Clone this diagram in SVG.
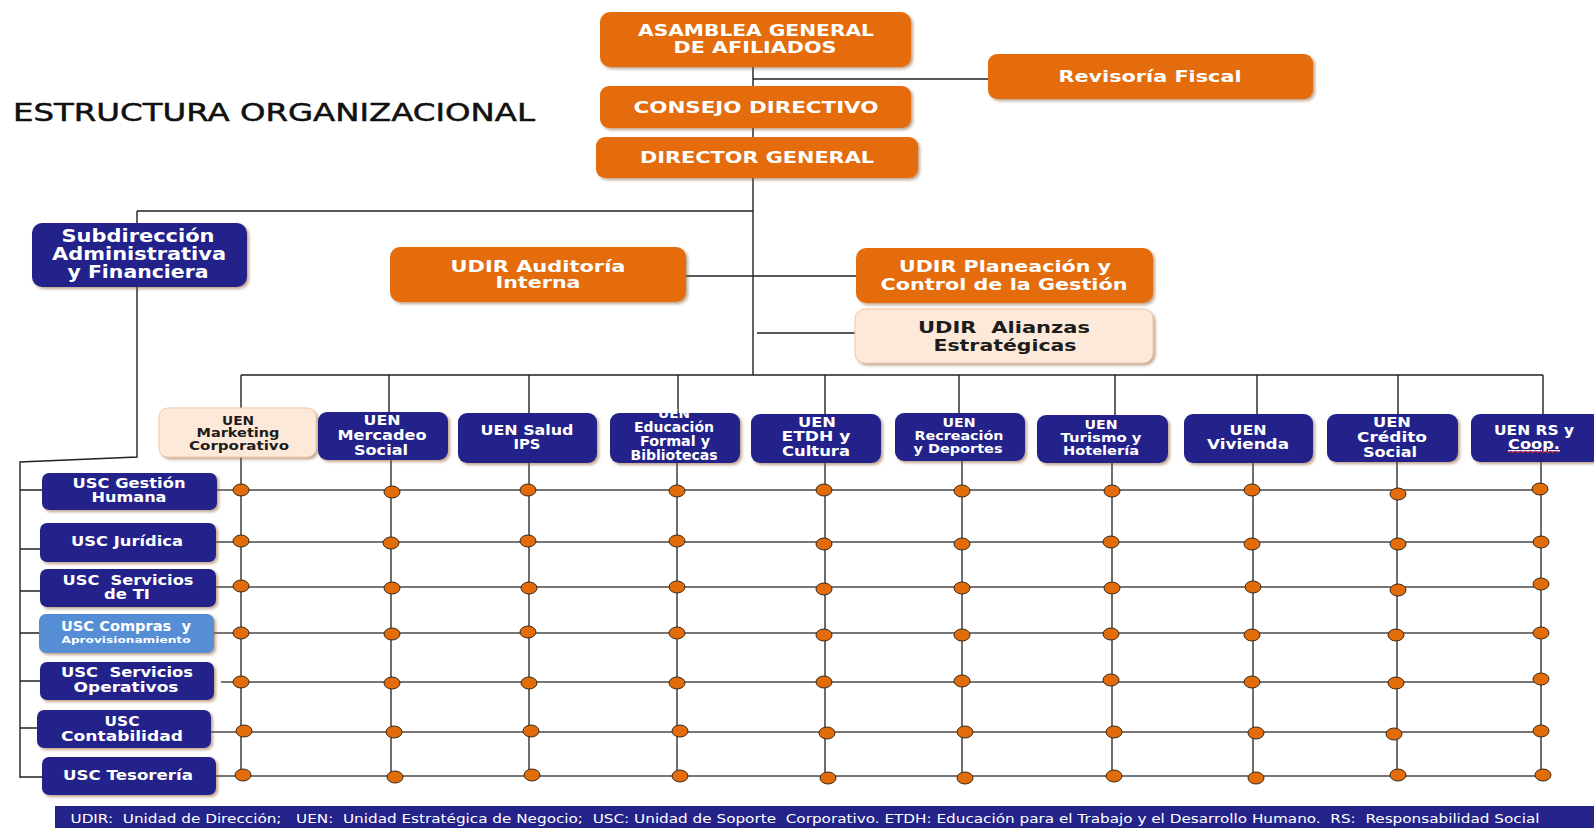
<svg xmlns="http://www.w3.org/2000/svg" width="1594" height="828" viewBox="0 0 1594 828">
<defs>
<filter id="sh" x="-10%" y="-10%" width="125%" height="140%">
<feDropShadow dx="2" dy="2" stdDeviation="1.5" flood-color="#8a5a30" flood-opacity="0.55"/>
</filter>
</defs>
<style>
text{font-family:"DejaVu Sans","Verdana",sans-serif;font-weight:bold;text-anchor:middle}
.or{fill:#e46c0a;filter:url(#sh)}
.nv{fill:#23238a;filter:url(#sh)}
.pc{fill:#fde9d9;stroke:#f2c9a6;stroke-width:1;filter:url(#sh)}
.lb{fill:#558ed5;filter:url(#sh)}
.w{fill:#ffffff}
.d{fill:#1c1c1c}
.t16{font-size:16px}
.t17{font-size:17px}
.t13{font-size:13.5px}
.t12{font-size:12px}
.t14{font-size:14px}
.con{fill:none;stroke:#222;stroke-width:1.4}
.grid{fill:none;stroke:#4a4a4a;stroke-width:1.6}
.dot{fill:#e36c0a;stroke:#3a2a1a;stroke-width:1}
</style>
<rect width="1594" height="828" fill="#ffffff"/>
<text x="274" y="121" style="font-weight:normal;font-size:25px;fill:#111;stroke:#111;stroke-width:0.5" textLength="522" lengthAdjust="spacingAndGlyphs">ESTRUCTURA ORGANIZACIONAL</text>

<g id="connectors">
<path class="con" d="M753 67V86M753 79H988M753 128V137M753 178V375M137 211H753M137 211V223M686 276H856M757 333H855M241 375H1543"/>
<path class="con" d="M241 375V408M389 375V412M529 375V413M678 375V413M825 375V414M959 375V413M1115 375V415M1257 375V414M1398 375V414M1543 375V414"/>
<path class="con" d="M137 287V457L20 462V778M20 490H42M20 549H40M20 591H40M20 633H39M20 681H40M20 728H37M20 777H42"/>
<path class="grid" d="M241 457V776M391 460V777M529 463V775M677 463V776M825 463V778M962 461V778M1112 463V776M1253 463V778M1397 462V775M1541 462V775"/>
<path class="grid" d="M217 490H1542M216 542H1542M216 587H1542M214 633H1542M221 682H1542M211 732H1542M216 776H1542"/>
</g>

<g id="asamblea"><rect class="or" x="600" y="12" width="311" height="55" rx="10"/>
<text class="w t16" x="756" y="36" textLength="236" lengthAdjust="spacingAndGlyphs">ASAMBLEA GENERAL</text>
<text class="w t16" x="755" y="53" textLength="163" lengthAdjust="spacingAndGlyphs">DE AFILIADOS</text></g>

<g id="revisoria"><rect class="or" x="988" y="54" width="325" height="45" rx="9"/>
<text class="w t16" x="1150" y="82" textLength="183" lengthAdjust="spacingAndGlyphs">Revisoría Fiscal</text></g>

<g id="consejo"><rect class="or" x="600" y="86" width="311" height="42" rx="9"/>
<text class="w t16" x="756" y="113" textLength="245" lengthAdjust="spacingAndGlyphs">CONSEJO DIRECTIVO</text></g>

<g id="director"><rect class="or" x="596" y="137" width="322" height="41" rx="9"/>
<text class="w t16" x="757" y="163" textLength="234" lengthAdjust="spacingAndGlyphs">DIRECTOR GENERAL</text></g>

<g id="subdireccion"><rect class="nv" x="32" y="223" width="215" height="64" rx="10"/>
<text class="w t17" x="138" y="242" textLength="153" lengthAdjust="spacingAndGlyphs">Subdirección</text>
<text class="w t17" x="139" y="260" textLength="174" lengthAdjust="spacingAndGlyphs">Administrativa</text>
<text class="w t17" x="138" y="278" textLength="141" lengthAdjust="spacingAndGlyphs">y Financiera</text></g>

<g id="auditoria"><rect class="or" x="390" y="247" width="296" height="55" rx="10"/>
<text class="w t16" x="538" y="272" textLength="175" lengthAdjust="spacingAndGlyphs">UDIR Auditoría</text>
<text class="w t16" x="538" y="288" textLength="85" lengthAdjust="spacingAndGlyphs">Interna</text></g>

<g id="planeacion"><rect class="or" x="856" y="248" width="297" height="55" rx="10"/>
<text class="w t16" x="1005" y="272" textLength="212" lengthAdjust="spacingAndGlyphs">UDIR Planeación y</text>
<text class="w t16" x="1004" y="290" textLength="247" lengthAdjust="spacingAndGlyphs">Control de la Gestión</text></g>

<g id="alianzas"><rect class="pc" x="855" y="309" width="298" height="54" rx="10"/>
<text class="d t16" x="1004" y="333" style="white-space:pre" textLength="172" lengthAdjust="spacingAndGlyphs">UDIR  Alianzas</text>
<text class="d t16" x="1005" y="351" textLength="143" lengthAdjust="spacingAndGlyphs">Estratégicas</text></g>

<g id="uen-marketing"><rect class="pc" x="159" y="408" width="157" height="49" rx="9"/>
<text class="d t12" x="238" y="425" textLength="32" lengthAdjust="spacingAndGlyphs">UEN</text>
<text class="d t12" x="238" y="437" textLength="83" lengthAdjust="spacingAndGlyphs">Marketing</text>
<text class="d t12" x="239" y="450" textLength="100" lengthAdjust="spacingAndGlyphs">Corporativo</text></g>

<g id="uen-mercadeo"><rect class="nv" x="318" y="412" width="130" height="48" rx="9"/>
<text class="w t14" x="382" y="425" textLength="37" lengthAdjust="spacingAndGlyphs">UEN</text>
<text class="w t14" x="382" y="440" textLength="89" lengthAdjust="spacingAndGlyphs">Mercadeo</text>
<text class="w t14" x="381" y="455" textLength="54" lengthAdjust="spacingAndGlyphs">Social</text></g>

<g id="uen-salud"><rect class="nv" x="458" y="413" width="139" height="50" rx="9"/>
<text class="w t14" x="527" y="435" textLength="93" lengthAdjust="spacingAndGlyphs">UEN Salud</text>
<text class="w t14" x="527" y="449" textLength="27" lengthAdjust="spacingAndGlyphs">IPS</text></g>

<g id="uen-educacion"><rect class="nv" x="610" y="413" width="130" height="50" rx="9"/>
<text class="w t12" x="674" y="418" textLength="32" lengthAdjust="spacingAndGlyphs">UEN</text>
<text class="w t13" x="674" y="432" textLength="80" lengthAdjust="spacingAndGlyphs">Educación</text>
<text class="w t13" x="675" y="446" textLength="70" lengthAdjust="spacingAndGlyphs">Formal y</text>
<text class="w t13" x="674" y="460" textLength="87" lengthAdjust="spacingAndGlyphs">Bibliotecas</text></g>

<g id="uen-etdh"><rect class="nv" x="751" y="414" width="130" height="49" rx="9"/>
<text class="w t14" x="817" y="427" textLength="38" lengthAdjust="spacingAndGlyphs">UEN</text>
<text class="w t14" x="816" y="441" textLength="69" lengthAdjust="spacingAndGlyphs">ETDH y</text>
<text class="w t14" x="816" y="456" textLength="68" lengthAdjust="spacingAndGlyphs">Cultura</text></g>

<g id="uen-recreacion"><rect class="nv" x="895" y="413" width="130" height="48" rx="9"/>
<text class="w t12" x="959" y="427" textLength="33" lengthAdjust="spacingAndGlyphs">UEN</text>
<text class="w t12" x="959" y="440" textLength="89" lengthAdjust="spacingAndGlyphs">Recreación</text>
<text class="w t12" x="958" y="453" textLength="89" lengthAdjust="spacingAndGlyphs">y Deportes</text></g>

<g id="uen-turismo"><rect class="nv" x="1037" y="415" width="131" height="48" rx="9"/>
<text class="w t12" x="1101" y="429" textLength="33" lengthAdjust="spacingAndGlyphs">UEN</text>
<text class="w t12" x="1101" y="442" textLength="81" lengthAdjust="spacingAndGlyphs">Turismo y</text>
<text class="w t12" x="1101" y="455" textLength="76" lengthAdjust="spacingAndGlyphs">Hotelería</text></g>

<g id="uen-vivienda"><rect class="nv" x="1184" y="414" width="129" height="49" rx="9"/>
<text class="w t14" x="1248" y="435" textLength="37" lengthAdjust="spacingAndGlyphs">UEN</text>
<text class="w t14" x="1248" y="449" textLength="82" lengthAdjust="spacingAndGlyphs">Vivienda</text></g>

<g id="uen-credito"><rect class="nv" x="1327" y="414" width="131" height="48" rx="9"/>
<text class="w t14" x="1392" y="427" textLength="38" lengthAdjust="spacingAndGlyphs">UEN</text>
<text class="w t14" x="1392" y="442" textLength="70" lengthAdjust="spacingAndGlyphs">Crédito</text>
<text class="w t14" x="1390" y="457" textLength="54" lengthAdjust="spacingAndGlyphs">Social</text></g>

<g id="uen-rs"><rect class="nv" x="1471" y="414" width="130" height="48" rx="9"/>
<text class="w t14" x="1534" y="435" textLength="80" lengthAdjust="spacingAndGlyphs">UEN RS y</text>
<text class="w t14" x="1534" y="449" textLength="52" lengthAdjust="spacingAndGlyphs" text-decoration="underline">Coop.</text>
<path d="M1508 453l2.5 -2 2.5 2 2.5 -2 2.5 2 2.5 -2 2.5 2 2.5 -2 2.5 2 2.5 -2 2.5 2 2.5 -2 2.5 2 2.5 -2 2.5 2 2.5 -2 2.5 2 2.5 -2 2.5 2 2.5 -2 2.5 2" fill="none" stroke="#e0141e" stroke-width="1"/></g>

<g id="usc-gestion"><rect class="nv" x="42" y="473" width="175" height="37" rx="7"/>
<text class="w t14" x="129" y="488" textLength="113" lengthAdjust="spacingAndGlyphs">USC Gestión</text>
<text class="w t14" x="129" y="502" textLength="75" lengthAdjust="spacingAndGlyphs">Humana</text></g>

<g id="usc-juridica"><rect class="nv" x="40" y="523" width="176" height="39" rx="7"/>
<text class="w t14" x="127" y="546" textLength="112" lengthAdjust="spacingAndGlyphs">USC Jurídica</text></g>

<g id="usc-ti"><rect class="nv" x="40" y="569" width="176" height="38" rx="7"/>
<text class="w t14" x="128" y="585" style="white-space:pre" textLength="131" lengthAdjust="spacingAndGlyphs">USC  Servicios</text>
<text class="w t14" x="127" y="599" textLength="46" lengthAdjust="spacingAndGlyphs">de TI</text></g>

<g id="usc-compras"><rect class="lb" x="39" y="614" width="175" height="39" rx="7"/>
<text class="w t14" x="126" y="631" style="white-space:pre" textLength="130" lengthAdjust="spacingAndGlyphs">USC Compras  y</text>
<text class="w" x="126" y="643" style="font-size:9px" textLength="129" lengthAdjust="spacingAndGlyphs">Aprovisionamiento</text></g>

<g id="usc-operativos"><rect class="nv" x="40" y="662" width="174" height="38" rx="7"/>
<text class="w t14" x="127" y="677" style="white-space:pre" textLength="132" lengthAdjust="spacingAndGlyphs">USC  Servicios</text>
<text class="w t14" x="126" y="692" textLength="105" lengthAdjust="spacingAndGlyphs">Operativos</text></g>

<g id="usc-contabilidad"><rect class="nv" x="37" y="710" width="174" height="38" rx="7"/>
<text class="w t14" x="122" y="726" textLength="35" lengthAdjust="spacingAndGlyphs">USC</text>
<text class="w t14" x="122" y="741" textLength="122" lengthAdjust="spacingAndGlyphs">Contabilidad</text></g>

<g id="usc-tesoreria"><rect class="nv" x="42" y="757" width="174" height="38" rx="7"/>
<text class="w t14" x="128" y="780" textLength="130" lengthAdjust="spacingAndGlyphs">USC Tesorería</text></g>

<g id="dots">
<ellipse class="dot" cx="241" cy="490" rx="8" ry="6"/><ellipse class="dot" cx="392" cy="492" rx="8" ry="6"/><ellipse class="dot" cx="528" cy="490" rx="8" ry="6"/><ellipse class="dot" cx="677" cy="491" rx="8" ry="6"/><ellipse class="dot" cx="824" cy="490" rx="8" ry="6"/><ellipse class="dot" cx="962" cy="491" rx="8" ry="6"/><ellipse class="dot" cx="1112" cy="491" rx="8" ry="6"/><ellipse class="dot" cx="1252" cy="490" rx="8" ry="6"/><ellipse class="dot" cx="1398" cy="494" rx="8" ry="6"/><ellipse class="dot" cx="1540" cy="489" rx="8" ry="6"/>
<ellipse class="dot" cx="241" cy="541" rx="8" ry="6"/><ellipse class="dot" cx="391" cy="543" rx="8" ry="6"/><ellipse class="dot" cx="528" cy="541" rx="8" ry="6"/><ellipse class="dot" cx="677" cy="541" rx="8" ry="6"/><ellipse class="dot" cx="824" cy="544" rx="8" ry="6"/><ellipse class="dot" cx="962" cy="544" rx="8" ry="6"/><ellipse class="dot" cx="1111" cy="542" rx="8" ry="6"/><ellipse class="dot" cx="1252" cy="544" rx="8" ry="6"/><ellipse class="dot" cx="1398" cy="544" rx="8" ry="6"/><ellipse class="dot" cx="1541" cy="542" rx="8" ry="6"/>
<ellipse class="dot" cx="241" cy="586" rx="8" ry="6"/><ellipse class="dot" cx="392" cy="588" rx="8" ry="6"/><ellipse class="dot" cx="529" cy="588" rx="8" ry="6"/><ellipse class="dot" cx="677" cy="587" rx="8" ry="6"/><ellipse class="dot" cx="824" cy="589" rx="8" ry="6"/><ellipse class="dot" cx="962" cy="588" rx="8" ry="6"/><ellipse class="dot" cx="1112" cy="588" rx="8" ry="6"/><ellipse class="dot" cx="1253" cy="587" rx="8" ry="6"/><ellipse class="dot" cx="1398" cy="590" rx="8" ry="6"/><ellipse class="dot" cx="1541" cy="584" rx="8" ry="6"/>
<ellipse class="dot" cx="241" cy="633" rx="8" ry="6"/><ellipse class="dot" cx="392" cy="634" rx="8" ry="6"/><ellipse class="dot" cx="528" cy="632" rx="8" ry="6"/><ellipse class="dot" cx="677" cy="633" rx="8" ry="6"/><ellipse class="dot" cx="824" cy="635" rx="8" ry="6"/><ellipse class="dot" cx="962" cy="635" rx="8" ry="6"/><ellipse class="dot" cx="1111" cy="634" rx="8" ry="6"/><ellipse class="dot" cx="1252" cy="635" rx="8" ry="6"/><ellipse class="dot" cx="1396" cy="635" rx="8" ry="6"/><ellipse class="dot" cx="1541" cy="633" rx="8" ry="6"/>
<ellipse class="dot" cx="241" cy="682" rx="8" ry="6"/><ellipse class="dot" cx="392" cy="683" rx="8" ry="6"/><ellipse class="dot" cx="529" cy="683" rx="8" ry="6"/><ellipse class="dot" cx="677" cy="683" rx="8" ry="6"/><ellipse class="dot" cx="824" cy="682" rx="8" ry="6"/><ellipse class="dot" cx="962" cy="681" rx="8" ry="6"/><ellipse class="dot" cx="1111" cy="680" rx="8" ry="6"/><ellipse class="dot" cx="1252" cy="682" rx="8" ry="6"/><ellipse class="dot" cx="1396" cy="683" rx="8" ry="6"/><ellipse class="dot" cx="1541" cy="679" rx="8" ry="6"/>
<ellipse class="dot" cx="244" cy="731" rx="8" ry="6"/><ellipse class="dot" cx="394" cy="732" rx="8" ry="6"/><ellipse class="dot" cx="531" cy="731" rx="8" ry="6"/><ellipse class="dot" cx="680" cy="731" rx="8" ry="6"/><ellipse class="dot" cx="827" cy="733" rx="8" ry="6"/><ellipse class="dot" cx="965" cy="732" rx="8" ry="6"/><ellipse class="dot" cx="1114" cy="732" rx="8" ry="6"/><ellipse class="dot" cx="1256" cy="733" rx="8" ry="6"/><ellipse class="dot" cx="1394" cy="734" rx="8" ry="6"/><ellipse class="dot" cx="1541" cy="731" rx="8" ry="6"/>
<ellipse class="dot" cx="243" cy="775" rx="8" ry="6"/><ellipse class="dot" cx="395" cy="777" rx="8" ry="6"/><ellipse class="dot" cx="532" cy="775" rx="8" ry="6"/><ellipse class="dot" cx="680" cy="776" rx="8" ry="6"/><ellipse class="dot" cx="828" cy="778" rx="8" ry="6"/><ellipse class="dot" cx="965" cy="778" rx="8" ry="6"/><ellipse class="dot" cx="1114" cy="776" rx="8" ry="6"/><ellipse class="dot" cx="1256" cy="778" rx="8" ry="6"/><ellipse class="dot" cx="1398" cy="775" rx="8" ry="6"/><ellipse class="dot" cx="1543" cy="775" rx="8" ry="6"/>
</g>

<g id="footer"><rect x="55" y="806" width="1539" height="22" fill="#23238a"/>
<text class="w" x="805" y="823" style="font-size:13px;white-space:pre;font-weight:normal" textLength="1469" lengthAdjust="spacingAndGlyphs">UDIR:  Unidad de Dirección;   UEN:  Unidad Estratégica de Negocio;  USC: Unidad de Soporte  Corporativo. ETDH: Educación para el Trabajo y el Desarrollo Humano.  RS:  Responsabilidad Social</text></g>
</svg>
